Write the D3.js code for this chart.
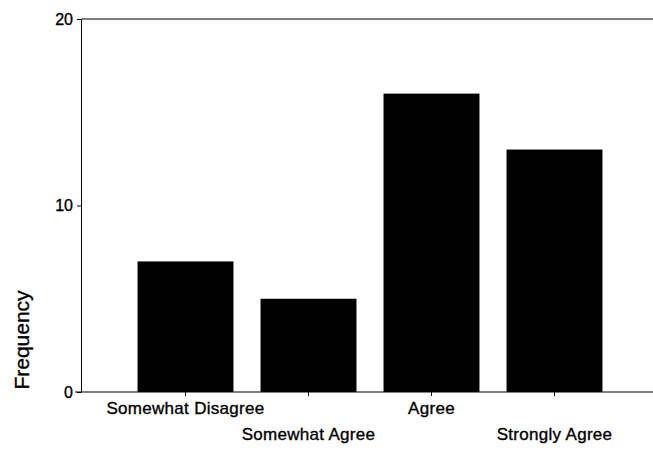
<!DOCTYPE html>
<html>
<head>
<meta charset="utf-8">
<script src="https://cdn.jsdelivr.net/npm/d3@7"></script>
<style>
	body { margin: 0; background: #fff; }
	text {
		font-family: 'Liberation Sans', Arial, sans-serif;
		fill: #000;
		stroke: #000;
		stroke-width: 0.35px;
	}
</style>
</head>
<body>
<div id="chart"></div>
<script>
const categories = ['Somewhat Disagree', 'Somewhat Agree', 'Agree', 'Strongly Agree']
const frequencies = [7, 5, 16, 13]
const yTicks = [0, 10, 20]

const width = 653
const height = 450
const margin = { top: 19, right: 0, bottom: 58, left: 81 }

const svg = d3
	.select('#chart')
	.append('svg')
	.attr('width', width)
	.attr('height', height)

const x = d3
	.scaleBand()
	.domain(categories)
	.range([124, 616])
	.paddingInner(0.22)
	.paddingOuter(0.11)

const y = d3
	.scaleLinear()
	.domain([0, 20])
	.range([height - margin.bottom, margin.top])

// bars
svg
	.append('g')
	.selectAll('rect')
	.data(categories)
	.enter()
	.append('rect')
	.attr('x', d => x(d))
	.attr('y', (d, i) => y(frequencies[i]))
	.attr('width', x.bandwidth())
	.attr('height', (d, i) => y(0) - y(frequencies[i]))
	.style('fill', '#000')

// frame lines: top and bottom run to the right edge
svg
	.append('line')
	.attr('x1', margin.left)
	.attr('x2', width)
	.attr('y1', y(20))
	.attr('y2', y(20))
	.attr('stroke', '#000')

svg
	.append('line')
	.attr('x1', margin.left - 6)
	.attr('x2', width)
	.attr('y1', y(0))
	.attr('y2', y(0))
	.attr('stroke', '#000')

// y axis
svg
	.append('g')
	.attr('transform', `translate(${margin.left},0)`)
	.call(
		d3
			.axisLeft(y)
			.tickValues(yTicks)
			.tickSize(4)
			.tickSizeOuter(0)
			.tickPadding(4)
	)
	.call(g => g.selectAll('text').style('font-size', '16px'))

// x axis, labels staggered on two rows
svg
	.append('g')
	.attr('transform', `translate(0,${y(0)})`)
	.call(d3.axisBottom(x).tickSize(4).tickPadding(6))
	.call(g => g.select('.domain').remove())
	.call(g =>
		g
			.selectAll('text')
			.style('font-size', '17px')
			.style('letter-spacing', '0.3px')
			.attr('y', (d, i) => (i % 2 ? 36 : 10))
	)

// axis title
svg
	.append('text')
	.attr('transform', `translate(29, ${y(0) - 52}) rotate(-90)`)
	.style('text-anchor', 'middle')
	.style('font-size', '21px')
	.text('Frequency')
</script>
</body>
</html>
